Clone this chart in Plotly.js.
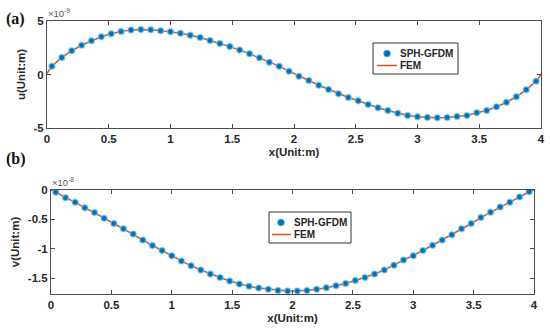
<!DOCTYPE html>
<html>
<head>
<meta charset="utf-8">
<script src="https://cdn.plot.ly/plotly-3.0.1.min.js"></script>
<style>html,body{margin:0;padding:0;background:#fff;}#chart{width:550px;height:334px;}</style>
</head>
<body>
<div id="chart"></div>
<script>
// Sample positions (m)
var sphX = [0.04,0.12,0.20,0.28,0.36,0.44,0.52,0.60,0.68,0.76,0.84,0.92,1.00,1.08,1.16,1.24,1.32,1.40,1.48,1.56,1.64,1.72,1.80,1.88,1.96,2.04,2.12,2.20,2.28,2.36,2.44,2.52,2.60,2.68,2.76,2.84,2.92,3.00,3.08,3.16,3.24,3.32,3.40,3.48,3.56,3.64,3.72,3.80,3.88,3.96];
// (a) u displacement, units of 1e-9 m
var sphU = [0.78,1.60,2.22,2.73,3.16,3.53,3.80,4.03,4.15,4.20,4.18,4.10,3.99,3.86,3.66,3.46,3.18,2.90,2.61,2.30,1.93,1.57,1.15,0.78,0.31,-0.16,-0.56,-1.00,-1.40,-1.80,-2.15,-2.46,-2.80,-3.11,-3.36,-3.62,-3.83,-3.95,-4.02,-4.05,-4.02,-3.93,-3.83,-3.58,-3.36,-3.02,-2.59,-2.08,-1.43,-0.63];
var femX = [0,0.04,0.12,0.20,0.28,0.36,0.44,0.52,0.60,0.68,0.76,0.84,0.92,1.00,1.08,1.16,1.24,1.32,1.40,1.48,1.56,1.64,1.72,1.80,1.88,1.96,2.04,2.12,2.20,2.28,2.36,2.44,2.52,2.60,2.68,2.76,2.84,2.92,3.00,3.08,3.16,3.24,3.32,3.40,3.48,3.56,3.64,3.72,3.80,3.88,3.96,4.00];
var femU = [0.10,0.78,1.60,2.22,2.73,3.16,3.53,3.80,4.03,4.15,4.20,4.18,4.10,3.99,3.86,3.66,3.46,3.18,2.90,2.61,2.30,1.93,1.57,1.15,0.78,0.31,-0.16,-0.56,-1.00,-1.40,-1.80,-2.15,-2.46,-2.80,-3.11,-3.36,-3.62,-3.83,-3.95,-4.02,-4.05,-4.02,-3.93,-3.83,-3.58,-3.36,-3.02,-2.59,-2.08,-1.43,-0.63,0.00];
// (b) v displacement, units of 1e-8 m
var sphV = [-0.04,-0.13,-0.21,-0.30,-0.385,-0.48,-0.57,-0.66,-0.75,-0.85,-0.945,-1.03,-1.12,-1.21,-1.29,-1.36,-1.43,-1.49,-1.55,-1.60,-1.64,-1.67,-1.69,-1.71,-1.72,-1.72,-1.71,-1.69,-1.665,-1.63,-1.59,-1.54,-1.49,-1.43,-1.36,-1.28,-1.19,-1.12,-1.03,-0.94,-0.85,-0.76,-0.66,-0.57,-0.47,-0.38,-0.29,-0.21,-0.12,-0.03];
var femV = [0.00,-0.04,-0.13,-0.21,-0.30,-0.385,-0.48,-0.57,-0.66,-0.75,-0.85,-0.945,-1.03,-1.12,-1.21,-1.29,-1.36,-1.43,-1.49,-1.55,-1.60,-1.64,-1.67,-1.69,-1.71,-1.72,-1.72,-1.71,-1.69,-1.665,-1.63,-1.59,-1.54,-1.49,-1.43,-1.36,-1.28,-1.19,-1.12,-1.03,-0.94,-0.85,-0.76,-0.66,-0.57,-0.47,-0.38,-0.29,-0.21,-0.12,-0.03,0.00];

var xTicks = [0,0.5,1,1.5,2,2.5,3,3.5,4];
var xTickText = ['0','0.5','1','1.5','2','2.5','3','3.5','4'];
var uTicks = [-5,0,5];
var uTickText = ['-5','0','5'];
var vTicks = [-1.5,-1,-0.5,0];
var vTickText = ['-1.5','-1','-0.5','0'];
var legendNames = ['SPH-GFDM','FEM'];

var W = 550, H = 334;
var blue = '#0072BD', orange = '#D95319', axc = '#4d4d4d', txt = '#262626';
var ff = 'Arial, "Liberation Sans", sans-serif';
var tf = {family:ff, size:11.5, color:txt, weight:'bold'};
var titf = {family:ff, size:11.5, color:txt, weight:'bold'};
var mk = {color:blue, size:6, line:{color:'rgba(120,200,230,0.6)', width:1.5}};

var traces = [
  {x:femX, y:femU, xaxis:'x', yaxis:'y', mode:'lines', name:legendNames[1], line:{color:orange, width:1.5}},
  {x:sphX, y:sphU, xaxis:'x', yaxis:'y', mode:'markers', name:legendNames[0], marker:mk},
  {x:femX, y:femV, xaxis:'x2', yaxis:'y2', mode:'lines', name:legendNames[1], line:{color:orange, width:1.5}},
  {x:sphX, y:sphV, xaxis:'x2', yaxis:'y2', mode:'markers', name:legendNames[0], marker:mk}
];

function xa(dom, anchor){
  return {domain:dom, anchor:anchor, range:[0,4], tickvals:xTicks, ticktext:xTickText,
    ticks:'inside', ticklen:4, tickcolor:axc, showline:true, linecolor:axc, linewidth:1, mirror:'ticks',
    showgrid:false, zeroline:false, tickfont:tf,
    title:{text:'x(Unit:m)', font:titf, standoff:4}};
}
function ya(dom, anchor, rng, tv, tt, label){
  return {domain:dom, anchor:anchor, range:rng, tickvals:tv, ticktext:tt,
    ticks:'inside', ticklen:4, tickcolor:axc, showline:true, linecolor:axc, linewidth:1, mirror:'ticks',
    showgrid:false, zeroline:false, tickfont:tf,
    title:{text:label, font:titf, standoff:5}};
}

// legend boxes (pixel layout -> paper coords)
function px(x){return x/W;} function py(y){return 1-y/H;}
var shapes = [], annos = [];
function addLegend(bx0, by0, bx1, by1, mX, row1, lx0, lx1, row2, tx){
  shapes.push({type:'rect', xref:'paper', yref:'paper', x0:px(bx0), x1:px(bx1), y0:py(by1), y1:py(by0),
    fillcolor:'#fff', line:{color:'#333', width:1}});
  shapes.push({type:'circle', xref:'paper', yref:'paper', xsizemode:'pixel', ysizemode:'pixel',
    xanchor:px(mX), yanchor:py(row1), x0:-3.5, x1:3.5, y0:-3.5, y1:3.5,
    fillcolor:blue, line:{color:'rgba(120,200,230,0.6)', width:1}});
  shapes.push({type:'line', xref:'paper', yref:'paper', x0:px(lx0), x1:px(lx1), y0:py(row2), y1:py(row2),
    line:{color:orange, width:1.5}});
  annos.push({text:legendNames[0], xref:'paper', yref:'paper', x:px(tx), y:py(row1), xanchor:'left', yanchor:'middle',
    showarrow:false, font:{family:ff, size:10, color:txt, weight:'bold'}});
  annos.push({text:legendNames[1], xref:'paper', yref:'paper', x:px(tx), y:py(row2), xanchor:'left', yanchor:'middle',
    showarrow:false, font:{family:ff, size:10, color:txt, weight:'bold'}});
}
addLegend(373, 43, 458, 74, 387, 53.5, 377, 397, 65.5, 398);
addLegend(269, 212, 351, 243, 281, 222.5, 272, 291, 234.5, 292);

annos.push({text:'(a)', xref:'paper', yref:'paper', x:px(4), y:py(19), xanchor:'left', yanchor:'middle', showarrow:false,
  font:{family:'"Liberation Serif", "DejaVu Serif", serif', size:16, color:'#111', weight:'bold'}});
annos.push({text:'(b)', xref:'paper', yref:'paper', x:px(4), y:py(159), xanchor:'left', yanchor:'middle', showarrow:false,
  font:{family:'"Liberation Serif", "DejaVu Serif", serif', size:16, color:'#111', weight:'bold'}});
annos.push({text:'×10<sup>-9</sup>', xref:'paper', yref:'paper', x:px(46), y:py(21), xanchor:'left', yanchor:'bottom', showarrow:false,
  font:{family:ff, size:9.5, color:'#555'}});
annos.push({text:'×10<sup>-8</sup>', xref:'paper', yref:'paper', x:px(50), y:py(190), xanchor:'left', yanchor:'bottom', showarrow:false,
  font:{family:ff, size:9.5, color:'#555'}});

var layout = {
  width:W, height:H, margin:{l:0,r:0,t:0,b:0},
  paper_bgcolor:'#fff', plot_bgcolor:'#fff', showlegend:false,
  xaxis: xa([px(47),px(541)],'y'),
  yaxis: ya([py(128),py(21)],'x',[-5,5],uTicks,uTickText,'u(Unit:m)'),
  xaxis2: xa([px(51),px(534)],'y2'),
  yaxis2: ya([py(294),py(190)],'x2',[-1.77,0],vTicks,vTickText,'v(Unit:m)'),
  shapes: shapes,
  annotations: annos
};

Plotly.newPlot('chart', traces, layout, {displayModeBar:false, staticPlot:true});
</script>
</body>
</html>
